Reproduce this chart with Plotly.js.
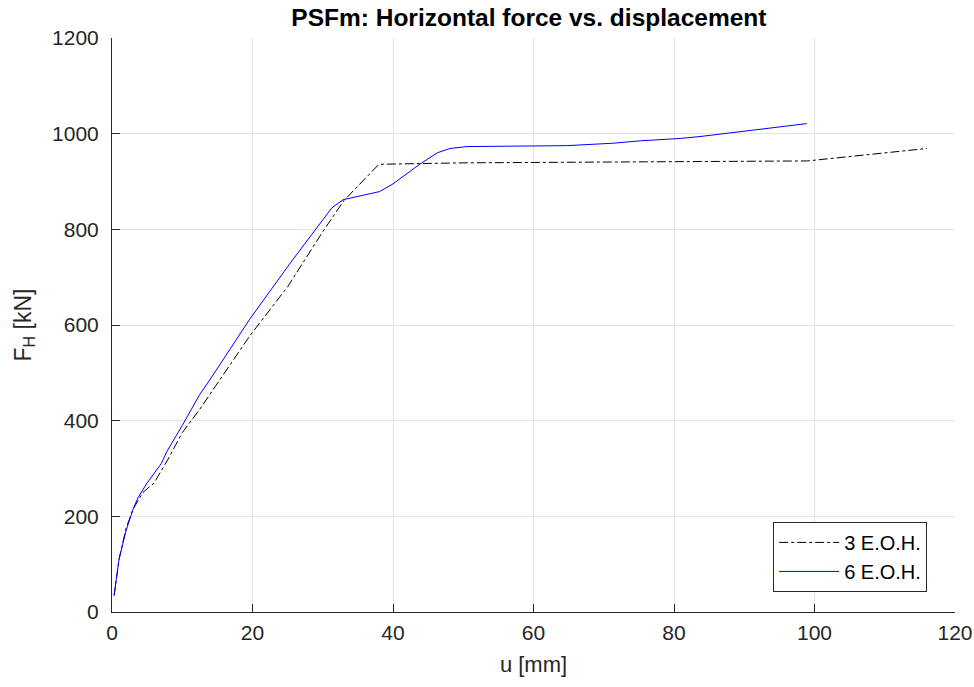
<!DOCTYPE html>
<html>
<head>
<meta charset="utf-8">
<script src="https://cdn.plot.ly/plotly-3.0.1.min.js"></script>
<style>html,body{margin:0;padding:0;background:#fff;}#chart{width:974px;height:687px;}</style>
</head>
<body>
<div id="chart"></div>
<script>
const u3 = [0.3, 1, 2, 3, 4.4, 6, 8, 10, 12.5, 15.4, 19.6, 25, 30, 33, 38, 50, 70, 90, 99, 116];
const f3 = [34, 110, 175, 215, 250, 270, 320, 375, 424, 487, 577, 680, 795, 860, 936, 939, 940, 941, 943, 969];

const u6 = [0.3, 1, 2, 3, 3.7, 5, 7, 7.8, 10, 12.5, 14, 19.6, 25.3, 31.3, 32.9, 38.1, 40, 43.8, 46.3, 48.1, 50.5, 64.8, 71.3, 75.2, 80.9, 83.7, 98.9];
const f6 = [35, 110, 170, 215, 239, 270, 310, 335, 390, 455, 487, 612, 728, 845, 862, 879, 895, 936, 960, 969, 973, 975, 980, 985, 990, 994, 1021];

const seriesNames = ['3 E.O.H.', '6 E.O.H.'];

const font = 'Liberation Sans, Arial, Helvetica, sans-serif';

const traces = [
  {x: u3, y: f3, name: seriesNames[0], mode: 'lines', line: {color: '#000000', width: 1, dash: 'dashdot'}},
  {x: u6, y: f6, name: seriesNames[1], mode: 'lines', line: {color: '#0000ff', width: 1, dash: 'solid'}}
];

const layout = {
  width: 974, height: 687,
  margin: {l: 112, r: 19, t: 38, b: 75},
  paper_bgcolor: '#ffffff', plot_bgcolor: '#ffffff',
  font: {family: font, size: 21, color: '#262626'},
  title: {text: '<b>PSFm: Horizontal force vs. displacement</b>', x: 0.543, xanchor: 'center', y: 0.987, yanchor: 'top', font: {family: font, size: 24.5, color: '#000000'}},
  xaxis: {
    range: [0, 120], tickvals: [0, 20, 40, 60, 80, 100, 120],
    showline: true, linecolor: '#262626', linewidth: 1,
    ticks: 'inside', ticklen: 8, tickcolor: '#262626',
    showgrid: true, gridcolor: '#e5e5e5', gridwidth: 1, zeroline: false,
    tickfont: {family: font, size: 21, color: '#262626'},
    ticklabelstandoff: 2,
    title: {text: 'u [mm]', font: {family: font, size: 22, color: '#262626'}, standoff: 13}
  },
  yaxis: {
    range: [0, 1200], tickvals: [0, 200, 400, 600, 800, 1000, 1200],
    showline: true, linecolor: '#262626', linewidth: 1,
    ticks: 'inside', ticklen: 8, tickcolor: '#262626',
    showgrid: true, gridcolor: '#e5e5e5', gridwidth: 1, zeroline: false,
    tickfont: {family: font, size: 21, color: '#262626'},
    ticklabelstandoff: 8,
    title: {text: 'F<sub>H</sub> [kN]', font: {family: font, size: 23, color: '#262626'}, standoff: 14}
  },
  showlegend: true,
  legend: {
    x: 0.967, xanchor: 'right', y: 0.035, yanchor: 'bottom',
    bgcolor: '#ffffff', bordercolor: '#262626', borderwidth: 1,
    font: {family: font, size: 20, color: '#000000'},
    tracegroupgap: 0, itemwidth: 60
  }
};

Plotly.newPlot('chart', traces, layout, {displayModeBar: false, staticPlot: true});
</script>
</body>
</html>
